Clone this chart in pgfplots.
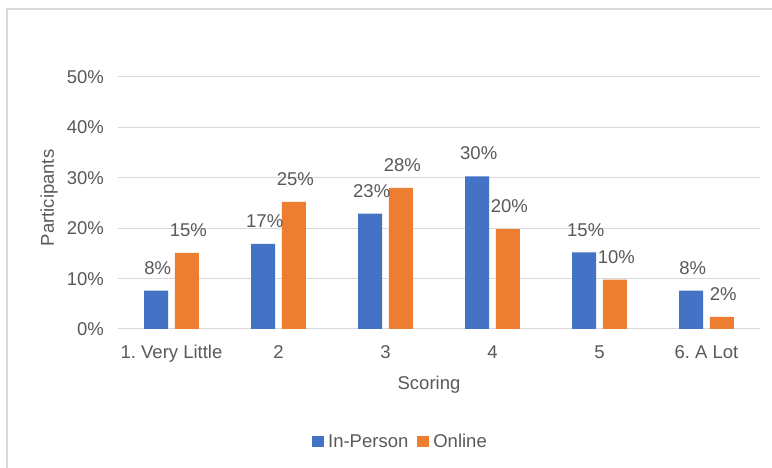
\documentclass[border=0pt]{standalone}
\usepackage{pgfplots}
\pgfplotsset{compat=1.18}
\usepackage{fontspec}
\setmainfont{Liberation Sans}
\frenchspacing
\definecolor{barblue}{HTML}{4472C4}
\definecolor{barorange}{HTML}{ED7D31}
\definecolor{txtgray}{HTML}{595959}
\definecolor{gridgray}{HTML}{D9D9D9}
\pgfkeys{/pgf/number format/assume math mode=true}
\newcommand{\chartfont}{\fontsize{18.5bp}{22bp}\selectfont}
\pgfplotsset{
  sqlegend/.style={legend image code/.code={%
    \path (0bp,0bp) -- (14bp,0bp);
    \fill[##1] (0bp,-5.5bp) rectangle (11.5bp,6bp);}},
}
\begin{document}
\begin{tikzpicture}
\useasboundingbox (0,0) rectangle (772bp,468bp);
\fill[white] (0,0) rectangle (772bp,468bp);
% chart frame
\draw[gridgray, line width=1.2bp] (7bp,-10bp) -- (7bp,459bp) -- (790bp,459bp);
\begin{axis}[
  at={(118bp,139bp)}, anchor=south west,
  scale only axis, width=642bp, height=252bp,
  xmin=-0.5, xmax=5.5, ymin=0, ymax=50,
  ybar, bar width=24bp,
  xtick={0,...,5}, xticklabels={1. Very Little,2,3,4,5,6. A Lot},
  ytick={0,10,...,50},
  yticklabel={\pgfmathprintnumber{\tick}\%},
  ymajorgrids, grid style={gridgray, line width=1bp},
  axis line style={draw=none},
  major tick length=0pt,
  tick label style={font=\chartfont, text=txtgray},
  xticklabel style={anchor=base, inner sep=0pt, yshift=-30bp},
  yticklabel style={anchor=base east, inner sep=0pt, xshift=-14bp, yshift=-6.5bp},
  xlabel={Scoring}, ylabel={Participants},
  label style={font=\chartfont, text=txtgray},
  xlabel style={at={(axis description cs:0.4844,-0.222)}, anchor=center},
  ylabel style={at={(axis description cs:-0.1075,0.52)}, anchor=center},
  nodes near coords={\pgfmathprintnumber[fixed,precision=0]{\pgfplotspointmeta}\%},
  every node near coord/.append style={font=\chartfont, text=txtgray, anchor=south, inner sep=0pt, yshift=16bp, xshift=1.5bp},
  legend columns=2,
  legend style={at={(axis description cs:0.44,-0.447)}, anchor=center, draw=none, fill=none,
    font=\chartfont, text=txtgray, /tikz/every even column/.append style={column sep=7bp}},
  sqlegend,
]
\addplot[fill=barblue, draw=none, bar shift=-15.3bp]
  coordinates {(0,7.6) (1,16.9) (2,22.9) (3,30.3) (4,15.2) (5,7.6)};
\addplot[fill=barorange, draw=none, bar shift=15.3bp]
  coordinates {(0,15.1) (1,25.2) (2,28.0) (3,19.8) (4,9.8) (5,2.4)};
\legend{In-Person,Online}
\end{axis}
\end{tikzpicture}
\end{document}
